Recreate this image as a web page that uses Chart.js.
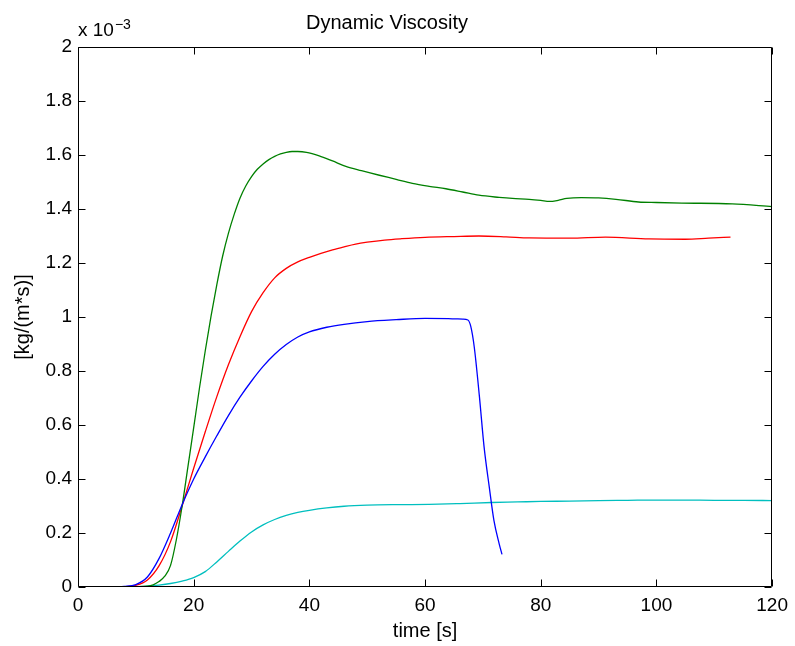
<!DOCTYPE html>
<html>
<head>
<meta charset="utf-8">
<script src="https://cdn.jsdelivr.net/npm/chart.js@4.4.1/dist/chart.umd.min.js"></script>
<style>
  html, body { margin: 0; padding: 0; background: #fff; }
  #wrap { width: 795px; height: 646px; }
</style>
</head>
<body>
<div id="wrap"><canvas id="c" width="795" height="646"></canvas></div>
<script>
// values in units of 1e-3 kg/(m*s)
const blueT = [3, 6, 8, 10, 12, 14, 16, 18, 20, 22, 24, 26, 28, 30, 32, 34, 36, 38, 40, 43, 46, 50, 55, 60, 64, 66.5, 67.4, 67.9, 68.5, 69.4, 70.2, 71.1, 71.9, 72.8, 73.3];
const blueV = [0, 0, 0.002, 0.009, 0.037, 0.105, 0.2, 0.305, 0.40, 0.482, 0.56, 0.635, 0.703, 0.763, 0.817, 0.862, 0.898, 0.926, 0.945, 0.962, 0.973, 0.983, 0.99, 0.995, 0.994, 0.992, 0.989, 0.965, 0.889, 0.704, 0.519, 0.37, 0.247, 0.161, 0.121];

const redT = [3, 6, 8, 10, 12, 14, 16, 18, 20, 22, 24, 26, 28, 30, 32, 34, 36, 38, 40, 42, 44, 46, 48, 50, 53, 56, 60, 65, 69.3, 74, 78, 85, 91.2, 98.7, 105, 109, 112.8];
const redV = [0, 0, 0.001, 0.006, 0.026, 0.078, 0.168, 0.30, 0.44, 0.575, 0.705, 0.823, 0.927, 1.02, 1.09, 1.145, 1.18, 1.204, 1.221, 1.236, 1.249, 1.26, 1.27, 1.277, 1.285, 1.29, 1.295, 1.298, 1.30, 1.297, 1.293, 1.292, 1.296, 1.289, 1.288, 1.292, 1.296];

const greenT = [3, 8, 12, 13, 14, 15, 16, 17, 18, 19, 20, 21, 22, 23, 24, 25, 26, 27, 28, 29, 30, 31, 32, 33, 34, 35, 36, 37, 38, 39.5, 41.7, 44, 46.3, 49, 52.1, 55, 57.8, 60.7, 63.6, 66.5, 69.3, 72.8, 75.1, 78, 80, 81.5, 83, 84.5, 87, 90, 93, 96.9, 100, 104.4, 113.1, 120];
const greenV = [0, 0, 0.003, 0.008, 0.02, 0.04, 0.08, 0.175, 0.30, 0.445, 0.59, 0.737, 0.875, 1.003, 1.12, 1.225, 1.31, 1.38, 1.44, 1.485, 1.52, 1.547, 1.567, 1.583, 1.595, 1.604, 1.61, 1.613, 1.613, 1.61, 1.597, 1.578, 1.558, 1.542, 1.525, 1.51, 1.495, 1.484, 1.475, 1.463, 1.451, 1.443, 1.439, 1.436, 1.432, 1.428, 1.432, 1.439, 1.442, 1.441, 1.436, 1.426, 1.424, 1.422, 1.419, 1.409];

const cyanT = [3, 8, 10, 12, 14, 16, 18, 20, 22, 24, 26, 28, 30, 32, 34, 36, 38, 40, 43, 46, 50, 55, 60.7, 66, 71.5, 76, 80, 85, 90, 95, 100, 105, 110, 115, 120];
const cyanV = [0, 0, 0.001, 0.003, 0.007, 0.013, 0.022, 0.035, 0.057, 0.093, 0.132, 0.17, 0.204, 0.23, 0.25, 0.265, 0.276, 0.284, 0.293, 0.299, 0.303, 0.305, 0.306, 0.309, 0.313, 0.315, 0.317, 0.318, 0.32, 0.321, 0.322, 0.322, 0.321, 0.321, 0.32];

const xTicks = [0, 20, 40, 60, 80, 100, 120];
const yTicks = [0, 0.2, 0.4, 0.6, 0.8, 1, 1.2, 1.4, 1.6, 1.8, 2];

const chartTitle = 'Dynamic Viscosity';
const xLabel = 'time [s]';
const yLabel = '[kg/(m*s)]';
const exponentBase = 'x 10';
const exponentPow = '\u22123';

function pts(t, v) { return t.map((x, i) => ({ x: x, y: v[i] })); }

const FONT = '"Liberation Sans", Arial, Helvetica, sans-serif';

const boxPlugin = {
  id: 'matlabBox',
  afterDatasetsDraw(chart) {
    const { ctx, chartArea: a, scales } = chart;
    ctx.save();
    ctx.strokeStyle = '#000';
    ctx.lineWidth = 1;
    const L = Math.round(a.left) + 0.5, R = Math.round(a.right) - 0.5;
    const T = Math.round(a.top) + 0.5, B = Math.round(a.bottom) - 0.5;
    ctx.beginPath();
    ctx.rect(L, T, R - L, B - T);
    ctx.stroke();
    ctx.beginPath();
    const tl = 7;
    xTicks.forEach(v => {
      const px = Math.round(scales.x.getPixelForValue(v)) + 0.5;
      ctx.moveTo(px, B); ctx.lineTo(px, B - tl);
      ctx.moveTo(px, T); ctx.lineTo(px, T + tl);
    });
    yTicks.forEach(v => {
      const py = Math.round(scales.y.getPixelForValue(v)) + 0.5;
      ctx.moveTo(L, py); ctx.lineTo(L + tl, py);
      ctx.moveTo(R, py); ctx.lineTo(R - tl, py);
    });
    ctx.stroke();
    // exponent label
    ctx.fillStyle = '#000';
    ctx.textBaseline = 'alphabetic';
    ctx.textAlign = 'left';
    ctx.font = '19px ' + FONT;
    ctx.fillText(exponentBase, a.left, 36);
    const w = ctx.measureText(exponentBase).width;
    ctx.font = '14px ' + FONT;
    ctx.fillText(exponentPow, a.left + w + 1, 29);
    ctx.restore();
  }
};

const ds = (label, t, v, color) => ({
  label: label,
  data: pts(t, v),
  borderColor: color,
  backgroundColor: color,
  borderWidth: 1.3,
  pointRadius: 0,
  fill: false,
  cubicInterpolationMode: 'monotone'
});

new Chart(document.getElementById('c'), {
  type: 'line',
  data: {
    datasets: [
      ds('Series 1', blueT, blueV, '#0000ff'),
      ds('Series 2', greenT, greenV, '#008000'),
      ds('Series 3', redT, redV, '#ff0000'),
      ds('Series 4', cyanT, cyanV, '#00bfbf')
    ]
  },
  options: {
    responsive: false,
    animation: false,
    layout: { padding: { left: 0, right: 21, top: 0, bottom: 0 } },
    plugins: {
      legend: { display: false },
      tooltip: { enabled: false },
      title: {
        display: true,
        text: chartTitle,
        color: '#000',
        font: { family: FONT, size: 20, weight: 'normal', lineHeight: 1.2 },
        padding: { top: 11, bottom: 12 }
      }
    },
    scales: {
      x: {
        type: 'linear',
        min: 0, max: 120,
        afterFit(s) { s.height = 59; },
        afterBuildTicks(s) { s.ticks = xTicks.map(v => ({ value: v })); },
        grid: { display: false, drawTicks: false },
        border: { display: false },
        ticks: {
          color: '#000',
          padding: 7,
          maxRotation: 0,
          autoSkip: false,
          font: { family: FONT, size: 19 },
          callback: v => String(v)
        },
        title: {
          display: true,
          text: xLabel,
          color: '#000',
          font: { family: FONT, size: 20, lineHeight: 1.2 },
          padding: { top: 0, bottom: 3 }
        }
      },
      y: {
        type: 'linear',
        min: 0, max: 2,
        afterFit(s) { s.width = 78; },
        afterBuildTicks(s) { s.ticks = yTicks.map(v => ({ value: v })); },
        grid: { display: false, drawTicks: false },
        border: { display: false },
        ticks: {
          color: '#000',
          padding: 6,
          autoSkip: false,
          font: { family: FONT, size: 19 },
          callback: v => String(Number(v.toFixed(1)))
        },
        title: {
          display: true,
          text: yLabel,
          color: '#000',
          font: { family: FONT, size: 20, lineHeight: 1.2 },
          padding: { top: 11, bottom: 0 }
        }
      }
    }
  },
  plugins: [boxPlugin]
});
</script>
</body>
</html>
